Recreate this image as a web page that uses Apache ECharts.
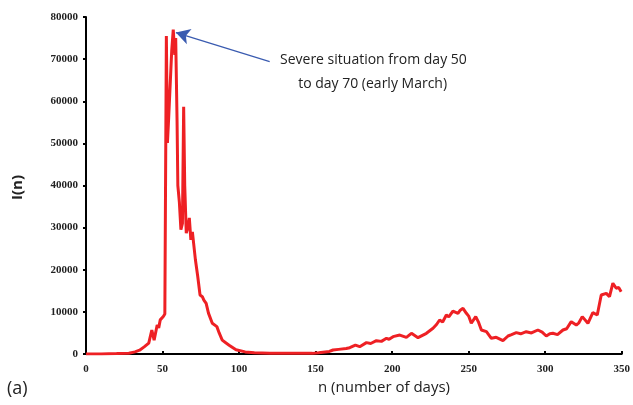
<!DOCTYPE html>
<html>
<head>
<meta charset="utf-8">
<script src="https://cdn.jsdelivr.net/npm/echarts@6/dist/echarts.min.js"></script>
<style>
  html, body { margin: 0; padding: 0; background: #fff; }
  #chart { width: 633px; height: 405px; }
</style>
</head>
<body>
<div id="chart"></div>
<script>
    // days and I(n) values
    const days = [0, 10, 20, 28, 32, 35, 38, 41, 43, 44.5, 46.5, 47.5, 48.5, 50.5, 51.5,
        52.5, 53.2, 54, 55.3, 56, 57, 58, 58.6, 59.5, 60, 61, 62, 63, 63.8, 64.5, 65.5, 66.5,
        67.5, 68.5, 69.5, 70.5, 71.5, 73, 74.5, 76, 77, 78.5, 80, 82.5, 85.5, 87, 89,
        91.5, 93.5, 98, 104, 110, 120, 135, 148,
        152, 159, 161.4, 165, 170, 172.3, 176, 178.8, 183.2, 186, 189.7, 193, 196.3, 198,
        200.6, 205, 209.3, 212.6, 216.9, 222.4, 226.7, 229, 231, 233, 235.4, 237, 239.7,
        241, 243, 244.5, 246.3, 248.5, 250, 251.7, 254.6, 256.5, 258.3, 261.6, 264.8,
        268, 272.4, 275.7, 278, 281.1, 284, 287.6, 291, 295.2, 298, 300.7, 303, 305,
        308, 311.6, 314, 317, 320.3, 322, 324.2, 327.9, 331.1, 334, 336.6, 339.9, 342,
        344.2, 346.4, 348, 349.6]
    const infected = [0, 0, 100, 200, 500, 900, 1700, 2600, 5700, 3300, 6900, 6200, 8100, 8900, 9500,
        75500, 50100, 56000, 55600, 72000, 77000, 71000, 75000, 55000, 40000, 36000, 29500, 31000, 58700, 40000, 28700, 30000,
        32300, 27100, 29000, 29000, 22300, 18400, 14000, 13600, 12800, 12000, 9700, 7300, 6500, 5000, 3300,
        2600, 2100, 1000, 500, 300, 200, 150, 150,
        300, 600, 950, 1100, 1300, 1500, 2100, 1740, 2700, 2500, 3170, 3000, 3720, 3500,
        4120, 4500, 3960, 4910, 3880, 4910, 6100, 7000, 8080, 7600, 9260, 8800, 10200,
        9800, 9660, 10400, 10850, 9660, 9000, 7290, 8870, 7500, 5700, 5300, 3720,
        3960, 3170, 4270, 4600, 5070, 4800, 5300, 5000, 5700, 5200, 4270, 4800, 4910,
        4600, 5700, 6000, 7680, 6890, 7400, 8870, 7290, 9810, 9260, 14000, 14400, 13600,
        16800, 15600, 15800, 14800]

    // arrow from the note to the peak
    const arrowFrom = [120, 69400]
    const arrowTo = [58.7, 76300]

    const chart = echarts.init(document.getElementById('chart'))

    const labelFont = {
        fontFamily: 'Liberation Serif',
        fontWeight: 'bold',
        fontSize: 11,
        color: '#222'
    }

    const option = {
        animation: false,
        grid: {
            left: 86,
            right: 11,
            top: 17,
            bottom: 51
        },
        xAxis: {
            type: 'value',
            min: 0,
            max: 350,
            interval: 50,
            axisLine: { lineStyle: { color: '#000', width: 2 } },
            axisTick: { show: true, inside: true, length: 3, lineStyle: { color: '#000', width: 2 } },
            axisLabel: Object.assign({ margin: 10, formatter: v => String(v) }, labelFont),
            splitLine: { show: false }
        },
        yAxis: {
            type: 'value',
            min: 0,
            max: 80000,
            interval: 10000,
            axisLine: { show: true, lineStyle: { color: '#000', width: 2 } },
            axisTick: { show: true, length: 3, lineStyle: { color: '#000', width: 2 } },
            axisLabel: Object.assign({ margin: 8, formatter: v => String(v) }, labelFont),
            splitLine: { show: false }
        },
        series: [
            {
                type: 'line',
                data: days.map((d, i) => [d, infected[i]]),
                symbol: 'none',
                lineStyle: { color: '#ee2024', width: 3 },
                markLine: {
                    silent: true,
                    symbol: ['none', 'arrow'],
                    symbolSize: [12, 14],
                    label: { show: false },
                    lineStyle: { color: '#3a5bb0', width: 1.2, type: 'solid' },
                    itemStyle: { color: '#1f2f80' },
                    data: [[{ coord: arrowFrom }, { coord: arrowTo }]]
                }
            }
        ],
        graphic: [
            {
                type: 'text',
                left: 280,
                top: 48,
                style: {
                    text: 'Severe situation from day 50\n     to day 70 (early March)',
                    font: '14px "Open Sans"',
                    lineHeight: 24,
                    fill: '#222'
                }
            },
            {
                type: 'text',
                left: 318,
                top: 380,
                style: { text: 'n (number of days)', font: '15px "Open Sans"', fill: '#222' }
            },
            {
                type: 'text',
                x: 10,
                y: 200,
                rotation: Math.PI / 2,
                style: { text: 'I(n)', font: 'bold 15px "Open Sans"', fill: '#222' }
            },
            {
                type: 'text',
                left: 7,
                top: 380,
                style: { text: '(a)', font: '18px "Open Sans"', fill: '#222' }
            }
        ]
    }
    chart.setOption(option)
</script>
</body>
</html>
